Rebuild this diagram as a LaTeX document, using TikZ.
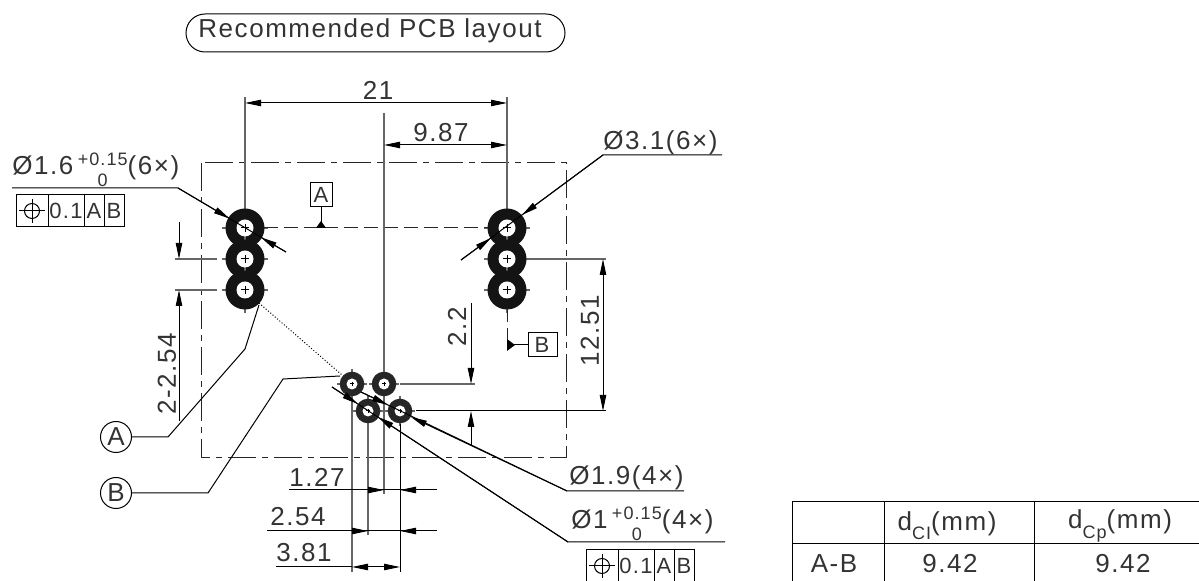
\documentclass[tikz,border=0pt]{standalone}
\usepackage{fontspec}
\setmainfont[LetterSpace=6]{Liberation Sans}
\usetikzlibrary{arrows.meta}

\tikzset{
  >={Triangle[length=8pt,width=3.2pt]},
  part/.style={line width=0.5pt, draw=black},
  ext/.style={line width=0.6pt, draw=black!60},
  lead/.style={line width=0.5pt, draw=black},
  outline/.style={line width=0.5pt, draw=black!85, dash pattern=on 14pt off 3pt on 3pt off 3pt},
  center/.style={line width=0.5pt, draw=black!85, dash pattern=on 7pt off 3pt},
  cad/.style={inner sep=0pt, font=\fontsize{13}{14}\selectfont, text=black!80},
  cadtiny/.style={inner sep=0pt, font=\fontsize{11}{13}\selectfont, text=black!80},
}

\newcommand{\tolstack}{\raisebox{-0.45em}{\fontsize{9}{9}\selectfont\shortstack{+0.15\\[1pt]0}}}
\newcommand{\fcfbox}[2]{
  \begin{scope}[shift={(#1)}]
  \draw[part] (0,0) rectangle (108,32);
  \draw[part] (32,0) -- (32,32);
  \draw[part] (68,0) -- (68,32);
  \draw[part] (88,0) -- (88,32);
  \draw[part] (16,16) circle (7.5);
  \draw[part] (3,16) -- (29,16);
  \draw[part] (16,4) -- (16,28);
  \node[cadtiny] (#2val) at (50,16) {0.1};
  \node[cadtiny] (#2a) at (78,16) {A};
  \node[cadtiny] (#2b) at (98,16) {B};
  \end{scope}
}

\begin{document}
\begin{tikzpicture}[x=0.5pt, y=-0.5pt]
\useasboundingbox (0,0) rectangle (1199,581);

% title
\draw[part, rounded corners=9.5pt] (186,14) rectangle (565,52);
\node[cad] (title) at (370,31) {Recommended PCB layout};

% outline
\draw[outline] (201,163) rectangle (566,458);

% holes
\foreach \hx in {245,507} {
  \foreach \hy in {228,259,290} {
    \draw[ext] (\hx-23,\hy) -- (\hx+23,\hy);
    \draw[ext] (\hx,\hy-23) -- (\hx,\hy+23);
    \fill[black!92] (\hx,\hy) circle (19.5);
  }
}
\foreach \hx in {245,507} {
  \foreach \hy in {228,259,290} {
    \fill[white] (\hx,\hy) circle (8.5);
    \draw[part] (\hx-4,\hy) -- (\hx+4,\hy);
    \draw[part] (\hx,\hy-4) -- (\hx,\hy+4);
  }
}
\foreach \hx/\hy in {352/384, 384/384, 368/411, 400/411} {
  \draw[ext] (\hx-15,\hy) -- (\hx+15,\hy);
  \draw[ext] (\hx,\hy-15) -- (\hx,\hy+15);
  \fill[black!85] (\hx,\hy) circle (12.3);
  \fill[white] (\hx,\hy) circle (5.5);
  \draw[part] (\hx-2,\hy) -- (\hx+2,\hy);
  \draw[part] (\hx,\hy-2) -- (\hx,\hy+2);
}

% center lines and datums
\draw[center] (264,228) -- (488,228);
\draw[center] (507,308) -- (507,340);
\draw[part] (310,183) rectangle (332,207);
\node[cadtiny] (datuma) at (321,195) {A};
\draw[part] (321,207) -- (321,228);
\fill (316,228) -- (326,228) -- (321,221) -- cycle;
\draw[part] (528,333) rectangle (557,357);
\node[cadtiny] (datumb) at (542,345) {B};
\draw[part] (507,345) -- (528,345);
\fill (507,339) -- (507,351) -- (515,345) -- cycle;

% dimensions on top
\draw[ext] (245,97) -- (245,205);
\draw[ext] (507,97) -- (507,205);
\draw[lead, <->] (245,103) -- (507,103);
\node[cad] (dimspan) at (378,90) {21};
\draw[ext] (384,113) -- (384,372);
\draw[lead, <->] (384,145) -- (507,145);
\node[cad] (dimoffset) at (441,133) {9.87};

% hole pitch
\draw[ext] (175,259) -- (217,259);
\draw[ext] (175,290) -- (217,290);
\draw[lead, ->] (179,222) -- (179,259);
\draw[lead, ->] (179,421) -- (179,290);
\node[cad, rotate=90] (dimpitch) at (167,374) {2-2.54};

% vertical dimensions on the right
\draw[ext] (529,259) -- (606,259);
\draw[lead] (416,411) -- (606,411);
\draw[lead, <->] (603,259) -- (603,411);
\node[cad, rotate=90] (dimheight) at (590,331) {12.51};
\draw[ext] (400,384) -- (475,384);
\draw[lead, ->] (471,303) -- (471,384);
\draw[lead, ->] (471,445) -- (471,411);
\node[cad, rotate=90] (dimrow) at (457,327) {2.2};

% bottom dimensions
\draw[ext] (352,397) -- (352,572);
\draw[ext] (368,424) -- (368,535);
\draw[ext] (384,397) -- (384,494);
\draw[lead] (400,424) -- (400,572);
\draw[lead] (289,490) -- (437,490);
\draw[lead, ->] (340,490) -- (384,490);
\draw[lead, ->] (437,490) -- (400,490);
\node[cad] (dimone) at (317,477) {1.27};
\draw[lead] (267,531) -- (437,531);
\draw[lead, ->] (330,531) -- (368,531);
\draw[lead, ->] (437,531) -- (400,531);
\node[cad] (dimtwo) at (298,517) {2.54};
\draw[lead] (276,567) -- (352,567);
\draw[lead, <->] (352,567) -- (400,567);
\node[cad] (dimthree) at (304,553) {3.81};

% leaders
\draw[lead] (12,188) -- (178,188) -- (286,252);
\draw[lead, ->] (178,188) -- (229.5,218.5);
\draw[lead, ->] (286,252) -- (261,237.5);
\node[cad, anchor=south west] (holeone) at (12,187) {Ø1.6\,\tolstack(6×)};
\fcfbox{16,195}{tolone}

\draw[lead] (722,155) -- (603,155) -- (461,260);
\draw[lead, ->] (603,155) -- (522,215);
\draw[lead, ->] (461,260) -- (491,238);
\node[cad, anchor=south west] (holetwo) at (603,155) {Ø3.1(6×)};

\draw[lead] (684,491) -- (567,491) -- (361,392);
\draw[lead, ->] (567,491) -- (411,417);
\draw[lead, ->] (361,392) -- (388,405);
\node[cad, anchor=south west] (holethree) at (569,490) {Ø1.9(4×)};

\draw[lead] (725,542) -- (568,542) -- (332,387);
\draw[lead, ->] (568,542) -- (378,417);
\draw[lead, ->] (332,387) -- (358,404);
\node[cad, anchor=south west] (holefour) at (571,541) {Ø1\,\tolstack(4×)};
\fcfbox{586,550}{toltwo}

% balloons
\node[cad, draw=black, text=black!80, circle, minimum size=15.5pt, line width=0.5pt] (balloona) at (116,437) {A};
\node[cad, draw=black, text=black!80, circle, minimum size=15.5pt, line width=0.5pt] (balloonb) at (116,493) {B};
\draw[lead] (balloona) -- (168,437) -- (245,349) -- (259,305);
\draw[lead] (balloonb) -- (208,493) -- (283,379) -- (340,376);
\draw[lead, densely dotted] (259,303) -- (342,375);

% table
\draw[part] (792,502) -- (1199,502);
\draw[part] (792,544) -- (1199,544);
\foreach \tx in {792,884,1034} {
  \draw[part] (\tx,502) -- (\tx,581);
}
\node[cad] (headci) at (947,526) {d\raisebox{-0.35em}{\fontsize{9}{9}\selectfont CI}(mm)};
\node[cad] (headcp) at (1120,526) {d\raisebox{-0.35em}{\fontsize{9}{9}\selectfont Cp}(mm)};
\node[cad] (rowname) at (834,564) {A-B};
\node[cad] (rowci) at (950,564) {9.42};
\node[cad] (rowcp) at (1123,564) {9.42};
\end{tikzpicture}
\end{document}
